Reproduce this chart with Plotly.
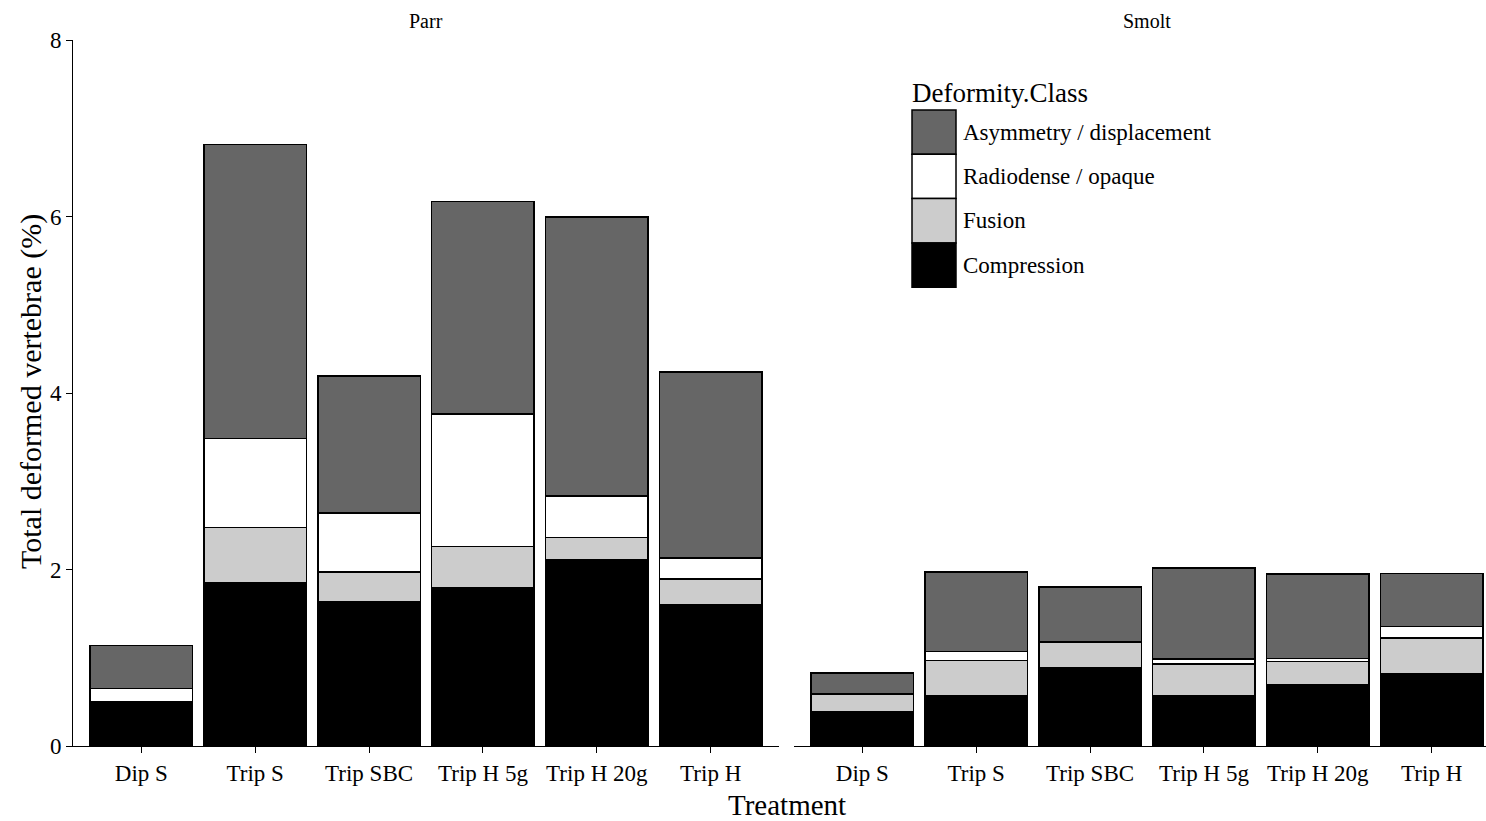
import plotly.graph_objects as go

treatments = ["Dip S", "Trip S", "Trip SBC", "Trip H 5g", "Trip H 20g", "Trip H"]
classes = ["Compression", "Fusion", "Radiodense / opaque", "Asymmetry / displacement"]
colors = {"Compression": "#000000", "Fusion": "#CCCCCC",
          "Radiodense / opaque": "#FFFFFF", "Asymmetry / displacement": "#666666"}

parr_compression = [0.48, 1.855, 1.64, 1.79, 2.115, 1.60]
parr_fusion = [0.02, 0.62, 0.33, 0.47, 0.25, 0.29]
parr_radiodense = [0.15, 1.01, 0.67, 1.50, 0.47, 0.24]
parr_asymmetry = [0.49, 3.33, 1.55, 2.41, 3.16, 2.11]

smolt_compression = [0.39, 0.567, 0.89, 0.567, 0.695, 0.824]
smolt_fusion = [0.20, 0.40, 0.29, 0.36, 0.265, 0.40]
smolt_radiodense = [0.0, 0.106, 0.0, 0.06, 0.03, 0.128]
smolt_asymmetry = [0.24, 0.90, 0.62, 1.03, 0.96, 0.605]

panels = {
    "Parr": [parr_compression, parr_fusion, parr_radiodense, parr_asymmetry],
    "Smolt": [smolt_compression, smolt_fusion, smolt_radiodense, smolt_asymmetry],
}

W, H = 1486, 821
ML, MR, MT, MB = 0, 0, 40, 75
FONT = "Liberation Serif"

def px2x(px):
    return (px - ML) / (W - ML - MR)

def px2y(py):
    return (H - MB - py) / (H - MT - MB)

fig = go.Figure()
axes = [("x", "y"), ("x2", "y2")]
for (panel, series), (xa, ya) in zip(panels.items(), axes):
    for cls, vals in zip(classes, series):
        fig.add_trace(go.Bar(
            x=treatments, y=vals, name=cls, xaxis=xa, yaxis=ya,
            marker=dict(color=colors[cls], line=dict(color="black", width=1.5)),
            width=0.9, showlegend=False,
        ))

left_dom = [px2x(73), px2x(779)]
right_dom = [px2x(794), 1.0]
unit = (779 - 73) / 6.2
right_max = -0.6 + (W - 794) / unit

common_x = dict(showline=True, linecolor="black", linewidth=1, ticks="outside",
                ticklen=6, tickcolor="black", showgrid=False, zeroline=False,
                tickfont=dict(family=FONT, size=23, color="black"),
                categoryorder="array", categoryarray=treatments)

fig.update_layout(
    width=W, height=H, barmode="stack", bargap=0.1,
    plot_bgcolor="white", paper_bgcolor="white",
    margin=dict(l=ML, r=MR, t=MT, b=MB),
    font=dict(family=FONT, color="black"),
    xaxis=dict(domain=left_dom, range=[-0.6, 5.6], anchor="y", **common_x),
    xaxis2=dict(domain=right_dom, range=[-0.6, right_max], anchor="y2", **common_x),
    yaxis=dict(range=[0, 8], tickvals=[0, 2, 4, 6, 8], showline=True, linecolor="black",
               linewidth=1, ticks="outside", ticklen=6, tickcolor="black",
               showgrid=False, zeroline=False, anchor="x",
               tickfont=dict(family=FONT, size=23, color="black")),
    yaxis2=dict(range=[0, 8], showline=False, showticklabels=False, ticks="",
                showgrid=False, zeroline=False, anchor="x2", matches="y"),
    showlegend=False,
)

annotations = [
    dict(text="Parr", x=(left_dom[0] + left_dom[1]) / 2, y=px2y(21), xref="paper", yref="paper",
         showarrow=False, font=dict(family=FONT, size=20), xanchor="center", yanchor="middle"),
    dict(text="Smolt", x=px2x(1147), y=px2y(21), xref="paper", yref="paper",
         showarrow=False, font=dict(family=FONT, size=20), xanchor="center", yanchor="middle"),
    dict(text="Treatment", x=px2x(787), y=px2y(805), xref="paper", yref="paper",
         showarrow=False, font=dict(family=FONT, size=29), xanchor="center", yanchor="middle"),
    dict(text="Total deformed vertebrae (%)", x=px2x(31), y=px2y(392), xref="paper", yref="paper",
         showarrow=False, textangle=-90, font=dict(family=FONT, size=30),
         xanchor="center", yanchor="middle"),
    dict(text="Deformity.Class", x=px2x(910), y=px2y(93), xref="paper", yref="paper",
         showarrow=False, font=dict(family=FONT, size=27), xanchor="left", yanchor="middle"),
]

shapes = []
key_top, key_h = 110, 44.3
legend_order = list(reversed(classes))
for i, cls in enumerate(legend_order):
    t = key_top + i * key_h
    shapes.append(dict(type="rect", xref="paper", yref="paper",
                       x0=px2x(912), x1=px2x(956), y0=px2y(t + key_h), y1=px2y(t),
                       fillcolor=colors[cls], line=dict(color="black", width=1.5)))
    annotations.append(dict(text=cls, x=px2x(961), y=px2y(t + key_h / 2), xref="paper", yref="paper",
                            showarrow=False, font=dict(family=FONT, size=23),
                            xanchor="left", yanchor="middle"))

fig.update_layout(annotations=annotations, shapes=shapes)
fig.write_html("out.html", config={"displayModeBar": False},
               post_script="document.body.style.margin='0px';")
